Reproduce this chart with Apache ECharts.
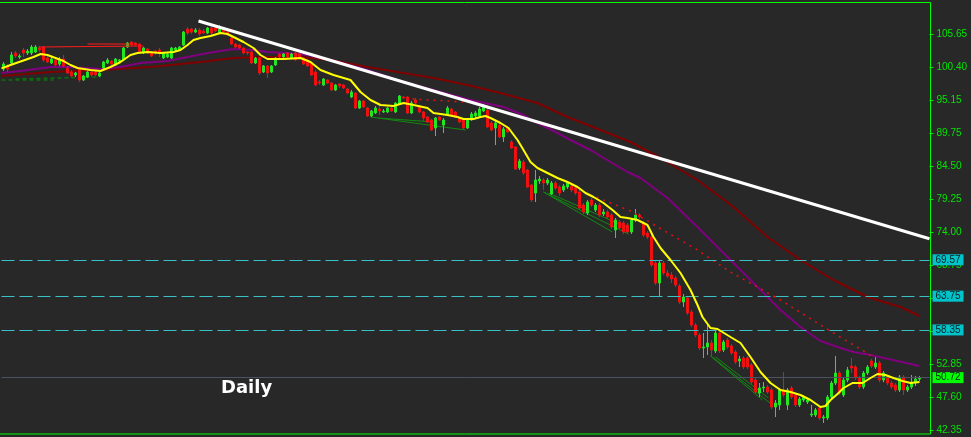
<!DOCTYPE html>
<html><head><meta charset="utf-8">
<script src="https://cdn.jsdelivr.net/npm/echarts@6/dist/echarts.min.js"></script>
<style>html,body{margin:0;padding:0;background:#282828}#c{width:971px;height:437px}</style>
</head><body><div id="c"></div>
<script>
// ---- data ----
const barCount = 232;
const categories = Array.from({length: barCount}, (_, i) => 'Bar ' + (i + 1));

const opens = [100.10,100.58,101.06,102.66,102.02,103.14,102.66,102.66,102.82,103.46,
103.62,101.86,101.06,101.54,100.90,101.70,100.26,99.62,99.14,100.10,
98.34,98.82,99.62,99.62,98.98,100.26,101.06,101.38,100.74,101.38,
101.54,103.62,104.42,104.26,104.10,102.66,103.30,102.82,102.98,103.14,
101.86,102.02,101.86,103.14,103.14,103.94,106.50,106.50,106.02,106.34,
106.18,105.86,106.66,106.66,105.86,106.50,106.02,105.06,104.10,103.94,
103.46,102.82,102.82,101.06,101.86,99.62,100.58,99.62,100.74,102.50,
102.02,102.66,101.86,102.66,102.50,101.86,101.54,101.06,99.62,98.02,
97.54,98.34,97.86,96.74,97.70,97.54,96.90,95.62,96.26,93.86,
94.98,93.86,92.58,93.06,93.70,93.22,93.22,93.86,93.22,94.50,
95.62,95.62,93.06,95.14,94.18,93.22,92.42,91.94,90.66,92.42,
91.14,92.74,93.70,93.22,92.26,91.94,90.66,91.94,92.58,92.58,
93.38,93.54,91.46,90.66,91.14,89.22,90.66,88.42,87.62,84.26,
85.22,83.94,81.54,80.26,82.18,82.34,81.86,80.10,81.86,81.22,
80.74,81.22,81.38,81.06,80.42,78.34,77.06,79.14,77.54,78.34,
76.90,77.22,76.74,74.34,75.62,75.46,75.14,74.02,75.94,76.74,
75.46,73.86,73.22,69.06,65.86,69.06,67.46,67.14,66.66,65.38,
62.82,63.46,61.22,59.14,57.54,55.46,55.62,56.26,54.98,57.86,
55.14,56.74,55.78,54.82,53.38,53.86,53.86,52.74,50.34,48.26,
49.06,49.22,48.74,46.02,46.34,48.74,46.34,49.06,47.94,46.34,
47.14,46.82,44.74,44.74,45.86,44.26,44.26,47.62,49.86,51.46,
47.94,50.34,52.58,52.42,50.66,49.22,51.46,53.38,52.42,53.06,
50.34,50.82,49.86,49.54,48.74,50.82,48.74,49.22,49.86,50.50];

const closes = [100.90,100.10,102.34,102.18,102.18,102.66,102.98,103.62,103.62,103.14,
101.54,101.22,101.70,100.74,101.54,100.58,99.46,98.98,99.46,98.34,
98.98,99.62,99.14,99.14,99.46,101.22,101.54,100.90,101.70,101.54,
103.46,104.26,103.94,103.94,102.82,103.46,102.66,102.18,102.66,102.66,
102.66,102.50,103.46,103.46,103.62,106.02,105.86,106.02,106.34,105.70,
105.86,106.66,105.86,106.18,106.50,106.02,105.54,104.10,103.62,103.46,
102.66,102.66,101.06,101.86,99.46,100.58,99.46,100.58,101.86,102.02,
102.50,102.02,102.50,101.54,101.86,100.90,100.58,99.14,97.54,97.86,
98.50,97.86,96.74,97.54,97.38,97.06,96.26,96.42,93.86,94.98,
94.02,92.58,93.38,93.86,93.38,93.38,93.86,93.38,94.66,95.78,
95.46,93.06,94.66,94.66,93.22,92.26,91.62,90.34,92.26,91.94,
91.94,93.86,92.74,92.42,91.62,90.66,91.94,92.90,93.06,93.70,
94.18,90.82,90.34,91.46,89.22,90.50,90.02,87.46,84.10,85.38,
83.46,81.22,79.14,82.34,82.50,81.86,82.34,81.86,81.06,80.26,
81.38,81.86,80.74,80.26,77.86,77.22,78.82,78.34,78.34,76.74,
77.22,76.42,74.82,75.94,74.66,74.02,74.02,75.94,76.74,76.42,
73.54,73.22,68.74,65.86,69.06,67.46,66.98,66.50,65.54,62.82,
63.62,61.06,59.14,57.54,55.46,55.62,56.26,55.14,57.86,54.98,
56.42,55.62,54.66,53.22,53.70,52.42,52.42,50.02,48.42,49.06,
49.22,48.42,46.02,46.66,48.74,47.94,48.74,47.62,46.34,47.30,
47.62,47.14,44.90,45.54,44.26,44.42,47.62,49.86,51.46,48.26,
50.34,51.94,52.26,50.66,49.22,51.46,52.42,52.58,53.06,50.34,
51.46,49.86,49.22,48.74,50.82,48.74,49.22,50.02,50.50,50.72];

const lows = [99.78,99.62,100.74,101.86,101.70,102.02,102.34,102.34,102.66,102.82,
101.22,101.06,100.90,100.58,100.58,100.42,99.30,98.82,98.82,98.02,
98.18,98.66,98.82,98.98,98.82,100.10,100.90,100.74,100.58,101.22,
101.38,103.46,103.78,103.78,102.66,102.50,102.50,102.02,102.34,102.02,
101.70,101.86,101.70,102.98,102.98,103.78,105.54,105.70,105.86,105.38,
105.70,105.70,105.54,106.02,105.70,105.86,105.38,103.94,103.46,103.30,
102.50,102.34,100.90,100.90,99.14,99.46,98.66,99.46,100.58,101.86,
101.86,101.86,101.70,101.38,101.70,100.74,100.42,98.98,97.38,97.54,
97.38,97.70,96.58,96.58,97.06,96.90,96.10,95.46,93.70,93.70,
93.86,92.42,92.42,92.90,92.74,93.06,93.06,93.22,93.06,94.34,
95.30,92.90,92.90,94.50,93.06,91.78,91.46,90.18,89.38,91.78,
89.86,92.58,92.58,92.26,91.46,90.50,90.50,91.78,92.26,92.42,
93.22,90.66,90.18,87.94,89.06,88.42,89.86,87.30,83.94,83.94,
83.14,81.06,78.82,78.82,81.70,80.74,81.54,79.94,80.74,79.78,
80.42,80.90,80.42,79.94,77.70,76.90,76.74,78.02,77.22,76.42,
76.58,76.10,74.50,73.06,74.34,73.70,73.70,73.70,75.62,76.10,
73.22,72.90,68.42,65.54,63.62,67.14,66.66,65.86,65.22,62.50,
62.02,60.74,58.82,57.22,55.14,53.86,54.34,54.02,54.66,54.66,
54.82,55.30,54.34,52.90,52.42,52.10,52.10,49.70,48.10,47.62,
48.42,48.10,45.70,44.42,45.54,47.62,45.54,47.30,46.02,46.02,
46.82,46.50,44.42,44.42,43.94,43.46,43.94,47.30,49.54,47.94,
47.62,49.98,51.46,50.34,48.90,48.90,51.14,52.26,52.10,49.98,
49.98,49.54,48.90,48.42,48.42,47.94,48.42,48.90,49.38,50.18];

const highs = [101.22,100.90,102.82,102.98,102.50,103.46,103.30,103.94,103.94,103.78,
103.78,102.18,102.02,101.86,102.02,102.34,100.58,99.94,99.62,100.26,
99.14,99.78,99.78,99.78,99.62,101.38,101.86,101.54,101.86,101.70,
103.62,104.42,104.58,104.42,104.26,103.62,103.46,102.98,103.14,103.46,
102.82,102.66,103.62,103.62,103.78,106.18,106.82,106.66,106.66,106.66,
106.50,106.82,107.14,106.82,107.14,106.66,106.18,105.38,104.26,104.10,
103.62,102.98,102.98,102.02,102.02,100.74,100.74,100.74,102.02,102.66,
102.66,102.82,102.66,102.82,102.66,102.02,101.70,101.22,99.94,98.34,
98.66,98.50,98.02,97.70,97.86,97.70,97.06,96.74,96.42,95.14,
95.14,94.02,93.54,94.18,94.18,93.70,94.02,94.02,94.82,95.94,
95.78,95.78,94.98,95.46,94.34,93.38,92.58,92.10,92.42,92.58,
92.26,94.18,93.86,93.38,92.42,92.10,92.10,93.22,93.38,94.02,
94.50,94.34,91.78,91.78,91.46,90.82,90.98,88.74,87.78,85.70,
85.54,84.10,81.70,83.94,82.98,82.66,82.66,82.18,82.18,81.54,
81.70,82.18,81.70,81.38,80.74,78.66,79.14,79.46,78.66,78.66,
77.70,77.54,77.06,76.26,75.94,75.78,75.46,76.26,77.70,77.06,
75.78,74.18,73.54,69.38,69.38,69.38,67.94,67.62,66.98,65.70,
64.10,63.78,61.54,59.46,57.86,57.86,59.14,56.74,58.18,58.18,
56.74,57.06,56.10,55.14,54.18,54.18,54.18,53.06,50.66,49.86,
50.02,49.54,49.06,47.14,49.06,51.62,49.06,49.38,48.26,47.62,
47.94,47.46,46.34,45.86,46.18,44.74,47.94,50.18,54.18,51.78,
50.66,52.42,53.86,52.74,50.98,51.78,52.74,53.70,54.02,53.38,
51.78,51.14,50.18,49.86,51.14,51.14,49.54,51.14,50.98,50.98];

// moving averages: [bar index, price]
const maFast = [[-0.5,100.20],[1.75,100.74],[7.5,102.02],[9.25,102.50],[11,102.34],[13,101.86],[15,101.38],[16.75,100.74],[18.5,100.26],[21.75,99.94],[24.25,99.78],[26.75,100.42],[29.25,101.22],[31.75,102.34],[33.5,102.66],[36,102.82],[39.25,102.66],[42.5,102.82],[44.25,103.14],[46,103.94],[47.5,104.74],[49.25,105.06],[51.75,105.38],[54.25,105.86],[56,105.70],[57.5,105.22],[60,104.42],[62.5,103.46],[64.25,102.34],[66,101.70],[70,101.70],[74.25,101.86],[76.75,101.22],[79.25,99.94],[82.5,99.14],[86.75,98.34],[89.25,96.42],[91.75,95.14],[94.25,94.34],[97.5,94.18],[100,94.66],[102.5,94.34],[106,93.86],[107.5,93.06],[111,92.74],[113.5,92.42],[115,92.10],[117.5,92.10],[119.25,92.42],[120.5,92.58],[121.75,92.26],[124.25,91.46],[126.25,90.66],[128.5,88.74],[130,87.14],[131.75,85.22],[133.5,84.26],[136,83.46],[138.5,82.66],[141,82.02],[143.5,81.22],[145.5,80.26],[147.5,79.62],[150,78.66],[152.25,77.54],[154.25,76.42],[156,76.26],[158.5,75.94],[161,75.14],[162.5,73.22],[164.25,71.46],[166.75,69.54],[169.25,67.46],[171.75,64.74],[173.5,62.34],[174.75,60.42],[176.75,58.66],[178.5,58.50],[181.75,57.22],[184.25,56.26],[186.75,54.02],[189.25,51.62],[191.75,49.86],[194.25,48.74],[196.75,48.42],[199.25,47.94],[201.75,47.14],[204.25,46.02],[205.5,46.18],[206.75,47.14],[208.5,48.10],[210,49.06],[212.25,49.86],[214.75,49.86],[216.75,50.66],[218.5,51.30],[220.5,51.14],[222.5,50.66],[224.75,50.18],[226.75,49.86],[229,50.02]];
const maMid = [[-0.5,99.46],[4.25,99.78],[11.75,100.42],[16.75,100.42],[24.25,100.10],[29.25,100.42],[34.25,101.06],[41,101.38],[46,102.02],[52.5,102.82],[57.5,103.30],[62.5,103.14],[66,102.82],[71,102.66],[76,102.34],[81.75,101.54],[91,99.94],[99.25,98.18],[109.25,96.42],[116.75,95.14],[125,94.02],[130,92.74],[133.5,91.46],[138.5,89.86],[141.75,88.74],[146.75,87.14],[151.75,85.22],[156,83.62],[159.25,82.66],[166,79.46],[173.5,74.82],[181.75,69.54],[190,64.26],[194.25,61.54],[199.25,58.82],[204.25,56.58],[208.5,55.62],[212.5,54.82],[216.75,54.34],[223.5,53.38],[229,52.58]];
const maSlow = [[-0.5,98.98],[11.75,99.62],[24.25,99.94],[36.75,100.42],[49.25,101.22],[57.5,101.86],[66,102.02],[74.25,102.02],[81.75,101.54],[91,100.42],[107.5,98.66],[116,97.54],[124.25,96.26],[133.5,94.66],[141,92.42],[149.25,90.34],[156.75,88.42],[164.25,85.86],[173.5,82.34],[182.5,78.02],[191,73.22],[199.25,69.54],[207.5,66.34],[216,63.62],[224.25,62.02],[229,60.58]];

// drawn objects
const trendLine = [[48.75,107.78],[231.5,72.93]];
const greenLines = [
  [[91.75,92.42],[115.5,90.34]],
  [[93.75,92.26],[107.5,91.62]],
  [[135,80.42],[152.25,74.02]],
  [[135,80.42],[156.25,73.70]],
  [[136.25,80.26],[156.25,74.66]],
  [[176.75,54.18],[189.75,47.14]],
  [[177.25,54.02],[192.25,46.34]],
  [[178,54.02],[191.25,47.46]]
];
const greenDashed = [
  [[-0.5,98.34],[12.5,98.34]],
  [[3,98.50],[24.25,98.82]]
];
const redLines = [
  [[8.75,103.62],[35,103.78]],
  [[21,104.10],[31.75,104.10]]
];
const redDotted = [
  [[102.25,95.30],[119.75,94.66]],
  [[145,80.42],[156.75,77.38],[173.5,71.14],[181.75,67.62],[194.25,63.14],[207.5,57.86],[217.5,54.02]]
];

const yTicks = [42.35,47.60,52.85,58.15,63.45,68.75,74.00,79.25,84.50,89.75,95.15,100.40,105.65];
const levels = [69.57, 63.75, 58.35];
const lastPrice = 50.72;

// ---- chart ----
const candleData = opens.map((o, i) => [o, closes[i], lows[i], highs[i]]);
const GREEN = '#22e622', RED = '#f01010';

function segSeries(list, color, width, type, z) {
  return list.map(pts => ({
    type: 'line', xAxisIndex: 1, yAxisIndex: 0, data: pts, showSymbol: false, symbol: 'none',
    silent: true, z: z, lineStyle: { color: color, width: width, type: type }
  }));
}

const labelBox = (bg) => ({
  show: true, position: 'end', distance: 3, formatter: p => p.value.toFixed(2),
  backgroundColor: bg, color: '#0b2020', fontFamily: 'Liberation Sans', fontSize: 10,
  lineHeight: 10, padding: [1, 3, 0, 3]
});

const chart = echarts.init(document.getElementById('c'));
chart.setOption({
  backgroundColor: '#282828',
  animation: false,
  grid: { left: 1.5, right: 41.5, top: 2, bottom: 3, show: false },
  xAxis: [
    { type: 'category', data: categories, show: false, boundaryGap: true },
    { type: 'value', min: -0.5, max: barCount - 0.5, show: false }
  ],
  yAxis: {
    type: 'value', position: 'right', min: 41.70, max: 110.82,
    splitLine: { show: false },
    axisLine: { show: false, onZero: false },
    axisTick: { show: true, inside: false, length: 4, lineStyle: { color: '#00e600' }, customValues: yTicks },
    axisLabel: { color: '#00e600', fontFamily: 'Liberation Sans', fontSize: 10, margin: 7,
      customValues: yTicks, formatter: v => v.toFixed(2) }
  },
  graphic: [
    { type: 'rect', silent: true, z: 100, shape: { x: -5.5, y: 2.5, width: 936, height: 431.5 },
      style: { fill: 'none', stroke: '#00ff00', lineWidth: 1 } },
    { type: 'text', silent: true, z: 100, x: 221, y: 388,
      style: { text: 'Daily', fill: '#ffffff', font: 'bold 18px "DejaVu Sans"', verticalAlign: 'middle' } }
  ],
  series: [
    { type: 'line', name: 'slow', xAxisIndex: 1, data: maSlow, showSymbol: false, silent: true, z: 2,
      lineStyle: { color: '#800000', width: 2 } },
    { type: 'line', name: 'mid', xAxisIndex: 1, data: maMid, showSymbol: false, silent: true, z: 2,
      lineStyle: { color: '#800080', width: 2 } },
    ...segSeries(greenDashed, '#0c700c', 1.5, [4, 3], 2),
    ...segSeries(greenLines, '#118a11', 1, 'solid', 2),
    {
      type: 'candlestick', xAxisIndex: 0, data: candleData, barWidth: 2, z: 3,
      itemStyle: { color: GREEN, color0: RED, borderColor: GREEN, borderColor0: RED, borderWidth: 1 },
      markLine: {
        symbol: 'none', silent: true, animation: false,
        data: [
          ...levels.map(v => ({ yAxis: v, lineStyle: { color: '#3cc0c8', width: 1, type: [13, 5] }, label: labelBox('#00c4cc') })),
          { yAxis: lastPrice, lineStyle: { color: '#4b5262', width: 1, type: 'solid' }, label: labelBox('#00ff00') }
        ]
      }
    },
    ...segSeries(redLines, '#ff1a1a', 1, 'solid', 4),
    ...segSeries(redDotted, '#e81010', 1.5, [2, 5], 4),
    { type: 'line', name: 'fast', xAxisIndex: 1, data: maFast, showSymbol: false, silent: true, z: 5,
      lineStyle: { color: '#ffff00', width: 2 } },
    { type: 'line', name: 'trend', xAxisIndex: 1, data: trendLine, showSymbol: false, silent: true, z: 6,
      lineStyle: { color: '#ffffff', width: 3 } }
  ]
});
</script>
</body></html>
